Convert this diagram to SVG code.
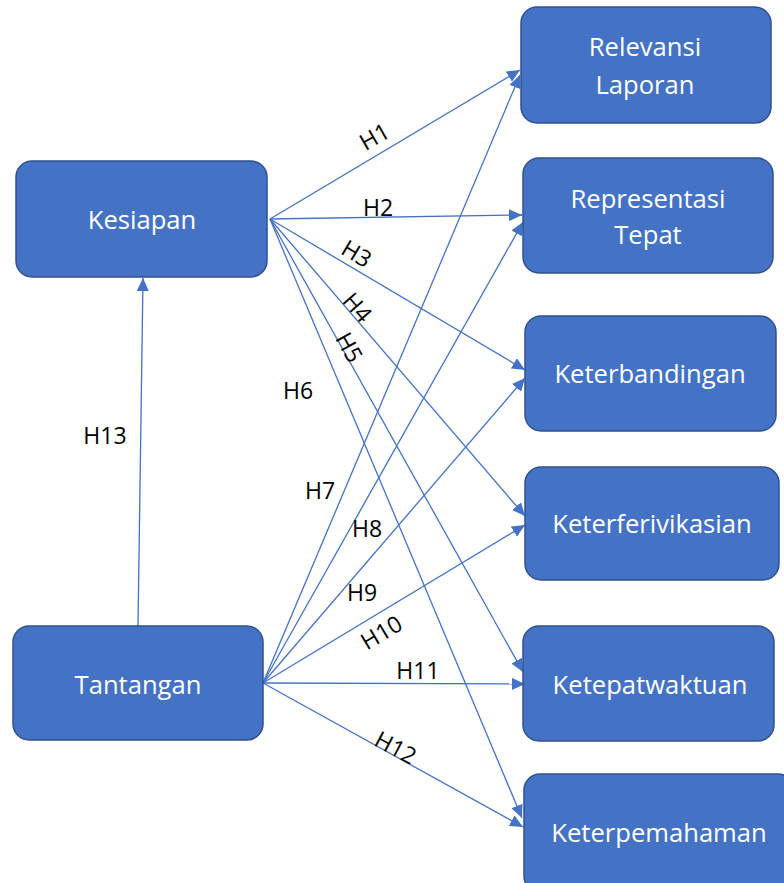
<svg xmlns="http://www.w3.org/2000/svg" width="784" height="883" viewBox="0 0 784 883">
  <style>
    .box { fill: #4472C4; stroke: #2F528F; stroke-width: 1.5; }
    .name { fill: #FFFFFF; font-family: "Open Sans", "Liberation Sans", sans-serif; font-size: 25.6px; text-anchor: middle; }
    .link { stroke: #4472C4; stroke-width: 1.3; fill: none; marker-end: url(#arrow); }
    .lbl { fill: #000000; font-family: "Open Sans", "Liberation Sans", sans-serif; font-size: 23px; text-anchor: middle; dominant-baseline: central; }
  </style>
  <defs>
    <marker id="arrow" markerUnits="userSpaceOnUse" markerWidth="14" markerHeight="12" refX="13" refY="6" orient="auto">
      <path d="M0,0 L13,6 L0,12 z" fill="#4472C4"/>
    </marker>
  </defs>
  <rect width="784" height="883" fill="#FFFFFF"/>

  <!-- connectors -->
  <g id="connectors">
    <line class="link" x1="270" y1="219" x2="520" y2="70"/>
    <line class="link" x1="270" y1="219" x2="522" y2="215"/>
    <line class="link" x1="270" y1="219" x2="525" y2="370"/>
    <line class="link" x1="270" y1="219" x2="525" y2="516"/>
    <line class="link" x1="270" y1="219" x2="523" y2="672"/>
    <line class="link" x1="270" y1="219" x2="522" y2="818"/>
    <line class="link" x1="263" y1="683" x2="520" y2="75"/>
    <line class="link" x1="263" y1="683" x2="523" y2="222"/>
    <line class="link" x1="263" y1="683" x2="525" y2="378"/>
    <line class="link" x1="263" y1="683" x2="525" y2="525"/>
    <line class="link" x1="263" y1="683" x2="525" y2="684"/>
    <line class="link" x1="263" y1="683" x2="523" y2="827"/>
    <line class="link" x1="138" y1="626" x2="143" y2="278"/>
  </g>

  <!-- path labels -->
  <g id="labels">
    <text class="lbl" transform="translate(374,136) rotate(-30)">H1</text>
    <text class="lbl" x="378" y="207">H2</text>
    <text class="lbl" transform="translate(357,253) rotate(31)">H3</text>
    <text class="lbl" transform="translate(358,307) rotate(49)">H4</text>
    <text class="lbl" transform="translate(350,347) rotate(61)">H5</text>
    <text class="lbl" x="298" y="390">H6</text>
    <text class="lbl" x="320" y="490">H7</text>
    <text class="lbl" x="367" y="528">H8</text>
    <text class="lbl" x="362" y="592">H9</text>
    <text class="lbl" transform="translate(381,632) rotate(-31)">H10</text>
    <text class="lbl" x="418" y="670">H11</text>
    <text class="lbl" transform="translate(396,747) rotate(28)">H12</text>
    <text class="lbl" x="105" y="435">H13</text>
  </g>

  <g id="kesiapan">
    <rect class="box" x="16" y="161" width="251" height="116" rx="16"/>
    <text class="name" x="142" y="229">Kesiapan</text>
  </g>
  <g id="tantangan">
    <rect class="box" x="13" y="626" width="250" height="114" rx="16"/>
    <text class="name" x="138" y="694">Tantangan</text>
  </g>
  <g id="relevansi">
    <rect class="box" x="521" y="7" width="250" height="116" rx="16"/>
    <text class="name" x="645" y="56">Relevansi</text>
    <text class="name" x="645" y="94">Laporan</text>
  </g>
  <g id="representasi">
    <rect class="box" x="523" y="158" width="250" height="115" rx="16"/>
    <text class="name" x="648" y="208">Representasi</text>
    <text class="name" x="648" y="244">Tepat</text>
  </g>
  <g id="keterbandingan">
    <rect class="box" x="525" y="316" width="251" height="115" rx="16"/>
    <text class="name" x="650" y="383">Keterbandingan</text>
  </g>
  <g id="keterferivikasian">
    <rect class="box" x="525" y="467" width="254" height="113" rx="16"/>
    <text class="name" x="652" y="533">Keterferivikasian</text>
  </g>
  <g id="ketepatwaktuan">
    <rect class="box" x="523" y="626" width="251" height="115" rx="16"/>
    <text class="name" x="650" y="694">Ketepatwaktuan</text>
  </g>
  <g id="keterpemahaman">
    <rect class="box" x="524" y="774" width="270" height="118" rx="16"/>
    <text class="name" x="659" y="842">Keterpemahaman</text>
  </g>
</svg>
